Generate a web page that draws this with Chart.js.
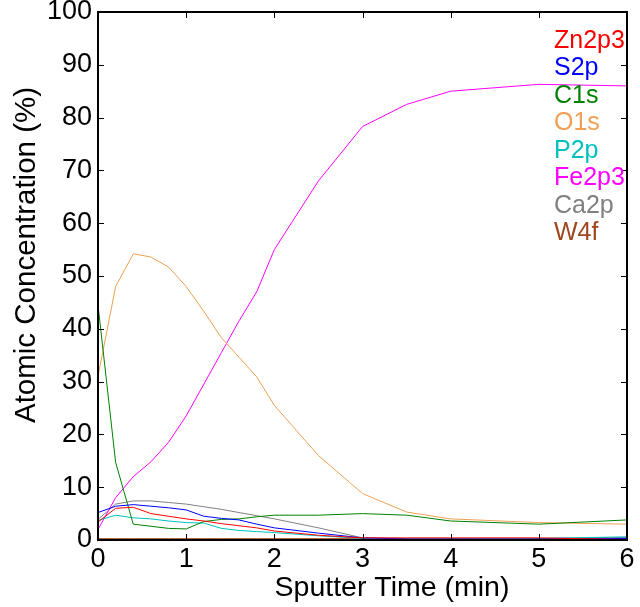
<!DOCTYPE html>
<html>
<head>
<meta charset="utf-8">
<script src="https://cdn.jsdelivr.net/npm/chart.js@4/dist/chart.umd.min.js"></script>
<style>
  html, body { margin: 0; padding: 0; background: #fff; }
  #wrap { width: 640px; height: 607px; }
</style>
</head>
<body>
<div id="wrap"><canvas id="myChart" width="640" height="607"></canvas></div>
<script>
// sputter times (min)
const times = [0, 0.2, 0.4, 0.6, 0.8, 1.0, 1.2, 1.4, 1.6, 1.8, 2.0, 2.5, 3.0, 3.5, 4.0, 5.0, 6.0];

// atomic concentration (%) per element
const zn2p3 = [3.4, 6.0, 6.2, 5.0, 4.5, 4.0, 3.6, 3.1, 2.7, 2.3, 1.7, 0.9, 0.4, 0.4, 0.4, 0.4, 0.1];
const s2p   = [5.2, 6.4, 6.7, 6.4, 6.1, 5.7, 4.5, 4.1, 3.8, 3.0, 2.3, 1.3, 0.4, 0.2, 0.2, 0.2, 0.3];
const c1s   = [44.5, 14.7, 3.0, 2.6, 2.2, 2.1, 3.5, 3.9, 4.0, 4.4, 4.7, 4.7, 5.0, 4.7, 3.6, 3.0, 3.8];
const o1s   = [31.0, 48.0, 54.2, 53.6, 51.7, 48.0, 43.3, 38.3, 34.6, 30.9, 25.5, 16.0, 8.8, 5.3, 4.0, 3.3, 3.0];
const p2p   = [3.7, 4.7, 4.2, 4.0, 3.6, 3.3, 3.2, 2.2, 1.8, 1.6, 1.4, 0.8, 0.3, 0.2, 0.2, 0.3, 0.6];
const fe2p3 = [2.0, 8.0, 12.0, 14.8, 18.5, 23.5, 29.5, 35.5, 41.5, 47.0, 55.0, 68.0, 78.3, 82.5, 85.0, 86.3, 86.0];
const ca2p  = [3.9, 6.8, 7.4, 7.4, 7.1, 6.8, 6.3, 5.8, 5.2, 4.6, 4.0, 2.3, 0.4, 0.3, 0.3, 0.3, 0.5];
const w4f   = [0.25, 0.25, 0.25, 0.25, 0.25, 0.25, 0.25, 0.25, 0.25, 0.25, 0.25, 0.25, 0.25, 0.25, 0.25, 0.25, 0.25];

const names  = ["Zn2p3", "S2p", "C1s", "O1s", "P2p", "Fe2p3", "Ca2p", "W4f"];
const series = [zn2p3, s2p, c1s, o1s, p2p, fe2p3, ca2p, w4f];
const colors = ["#ff0000", "#0000ff", "#008000", "#f0a055", "#00c0c0", "#ff00ff", "#808080", "#a0461e"];

const FONT = "'Liberation Sans', Arial, sans-serif";

const dataSets = function () {
    let d = [];
    for (let i in names) {
        d.push({
            label: names[i],
            data: times.map((t, j) => ({ x: t, y: series[i][j] })),
            borderColor: colors[i],
            backgroundColor: colors[i],
            borderWidth: 1,
            pointRadius: 0,
            tension: 0,
            fill: false,
        });
    }
    return d;
};

// box round the plot with inward ticks on all four sides
const frame = {
    id: "frame",
    afterDatasetsDraw(chart) {
        const { ctx, chartArea: a, scales: { x, y } } = chart;
        ctx.save();
        ctx.strokeStyle = "#000";
        ctx.lineWidth = 1;
        ctx.beginPath();
        x.ticks.forEach(t => {
            const px = Math.round(x.getPixelForValue(t.value)) + 0.5;
            ctx.moveTo(px, a.bottom); ctx.lineTo(px, a.bottom - 6);
            ctx.moveTo(px, a.top); ctx.lineTo(px, a.top + 6);
        });
        y.ticks.forEach(t => {
            const py = Math.round(y.getPixelForValue(t.value)) + 0.5;
            ctx.moveTo(a.left, py); ctx.lineTo(a.left + 6, py);
            ctx.moveTo(a.right, py); ctx.lineTo(a.right - 6, py);
        });
        ctx.stroke();
        ctx.lineWidth = 2;
        ctx.strokeRect(a.left, a.top, a.right - a.left, a.bottom - a.top);
        ctx.restore();
    }
};

// coloured text legend and axis titles
const labels = {
    id: "labels",
    afterDraw(chart) {
        const { ctx } = chart;
        ctx.save();
        ctx.font = "25px " + FONT;
        ctx.textAlign = "left";
        ctx.textBaseline = "middle";
        chart.data.datasets.forEach((ds, i) => {
            ctx.fillStyle = ds.borderColor;
            ctx.fillText(ds.label, 554, 41 + i * 27.5);
        });
        ctx.fillStyle = "#000";
        ctx.font = "28.5px " + FONT;
        ctx.textAlign = "center";
        ctx.fillText("Sputter Time (min)", 392, 588);
        ctx.font = "29.5px " + FONT;
        ctx.translate(27, 255);
        ctx.rotate(-Math.PI / 2);
        ctx.fillText("Atomic Concentration (%)", 0, 0);
        ctx.restore();
    }
};

const ctx = document.getElementById("myChart").getContext("2d");
const myChart = new Chart(ctx, {
    type: "line",
    data: { datasets: dataSets() },
    options: {
        responsive: false,
        animation: false,
        layout: { padding: { top: 12, right: 13, left: 0, bottom: 0 } },
        scales: {
            x: {
                type: "linear",
                min: 0,
                max: 6,
                ticks: { stepSize: 1, color: "#000", padding: 3, font: { family: FONT, size: 27 } },
                grid: { display: false, drawTicks: false },
                border: { display: false },
                afterFit: (s) => { s.height = 67; s.paddingLeft = 0; s.paddingRight = 0; },
            },
            y: {
                min: 0,
                max: 100,
                ticks: { stepSize: 10, color: "#000", padding: 6, font: { family: FONT, size: 27 } },
                grid: { display: false, drawTicks: false },
                border: { display: false },
                afterFit: (s) => { s.width = 98; s.paddingTop = 0; s.paddingBottom = 0; },
            },
        },
        plugins: {
            legend: { display: false },
            tooltip: { enabled: false },
        },
    },
    plugins: [frame, labels],
});
</script>
</body>
</html>
